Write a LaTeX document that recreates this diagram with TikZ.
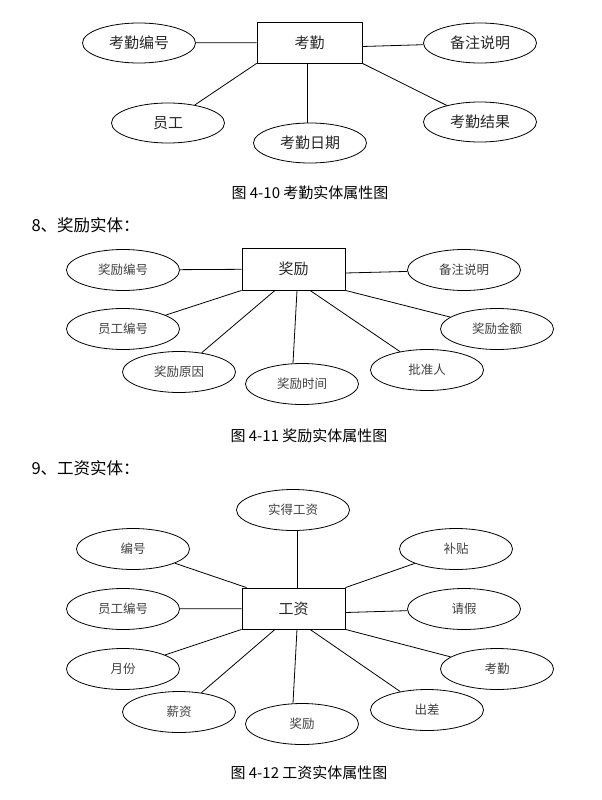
\documentclass[tikz,border=0pt]{standalone}
\usepackage{fontspec}
\setmainfont{Noto Sans CJK SC}
\usepackage{tikz}
\usetikzlibrary{shapes.geometric}
\newcommand{\setfs}[1]{\fontsize{#1}{#1}\selectfont}
\tikzset{
  attr/.style={draw,ellipse,line width=0.8pt,minimum width=113pt,minimum height=41pt,inner sep=0pt,text=black!75,font=\setfs{12.5}},
  attrbig/.style={attr,text=black!85,font=\setfs{15}},
  ent/.style={draw,rectangle,line width=0.8pt,minimum width=103pt,minimum height=42pt,inner sep=0pt,text=black!85,font=\setfs{15}},
  figcap/.style={font=\setfs{15}},
  heading/.style={anchor=west,font=\setfs{16.5}},
  link/.style={line width=0.8pt}
}

\begin{document}
\begin{tikzpicture}[x=1pt,y=-1pt]
  \useasboundingbox (0,0) rectangle (602,800);
  % 4-10
  \node[ent,minimum width=105pt,minimum height=41pt] (kq) at (309.5,42.5) {考勤};
  \node[attrbig,minimum height=40pt] (kqbh) at (139,43) {考勤编号};
  \node[attrbig,minimum height=40pt] (bzsm) at (480,43) {备注说明};
  \node[attrbig,minimum height=40pt] (yg) at (168,123) {员工};
  \node[attrbig,minimum height=40pt] (kqrq) at (310,143) {考勤日期};
  \node[attrbig,minimum height=40pt] (kqjg) at (480,122) {考勤结果};
  \draw[link] (kqbh) -- (kq);
  \draw[link] ([yshift=-4pt]kq.east) -- (bzsm);
  \draw[link] (kq.south west) -- (yg);
  \draw[link] ([xshift=-2.5pt]kq.south) -- ([xshift=-3pt]kqrq.north);
  \draw[link] (kq.south east) -- (kqjg);
  \node[figcap] (cap1) at (310,193) {图 4-10 考勤实体属性图};
  % 4-11
  \node[heading] (h8) at (28,225) {8、奖励实体：};
  \node[ent] (jl) at (293.5,269) {奖励};
  \node[attr] (jlbh) at (123,270) {奖励编号};
  \node[attr] (bzsm2) at (464,270) {备注说明};
  \node[attr] (ygbh) at (123,329) {员工编号};
  \node[attr] (jlyy) at (179,372) {奖励原因};
  \node[attr] (jlsj) at (302,384) {奖励时间};
  \node[attr] (pzr) at (427,370) {批准人};
  \node[attr] (jlje) at (497,329) {奖励金额};
  \draw[link] (jlbh) -- (jl);
  \draw[link] ([yshift=-4pt]jl.east) -- (bzsm2);
  \draw[link] (jl.south west) -- (ygbh);
  \draw[link] ([xshift=-18.5pt]jl.south) -- (jlyy);
  \draw[link] ([xshift=3.5pt]jl.south) -- ([xshift=-9pt]jlsj.north);
  \draw[link] ([xshift=16.5pt]jl.south) -- (pzr);
  \draw[link] (jl.south east) -- (jlje);
  \node[figcap] (cap2) at (309,436) {图 4-11 奖励实体属性图};
  % 4-12
  \node[heading] (h9) at (28,468) {9、工资实体：};
  \node[ent,minimum height=41pt] (gz) at (293.5,608.5) {工资};
  \node[attr] (sdgz) at (293,510) {实得工资};
  \node[attr] (bh) at (133,549) {编号};
  \node[attr] (ygbh2) at (123,609) {员工编号};
  \node[attr] (yf) at (123,669) {月份};
  \node[attr] (xz) at (179,712) {薪资};
  \node[attr] (jl2) at (302,724) {奖励};
  \node[attr] (cc) at (427,710) {出差};
  \node[attr] (kq2) at (497,669) {考勤};
  \node[attr] (qj) at (464,609) {请假};
  \node[attr] (bt) at (456,549) {补贴};
  \draw[link] ([xshift=3.5pt]gz.north) -- ([xshift=4pt]sdgz.south);
  \draw[link] ([xshift=5pt]gz.north west) -- (bh);
  \draw[link] (ygbh2) -- (gz);
  \draw[link] (gz.south west) -- (yf);
  \draw[link] ([xshift=-18.5pt]gz.south) -- (xz);
  \draw[link] ([xshift=3.5pt]gz.south) -- ([xshift=-9pt]jl2.north);
  \draw[link] ([xshift=16.5pt]gz.south) -- (cc);
  \draw[link] (gz.south east) -- (kq2);
  \draw[link] ([yshift=-4pt]gz.east) -- (qj);
  \draw[link] (gz.north east) -- (bt);
  \node[figcap] (cap3) at (309,773) {图 4-12 工资实体属性图};
\end{tikzpicture}
\end{document}
